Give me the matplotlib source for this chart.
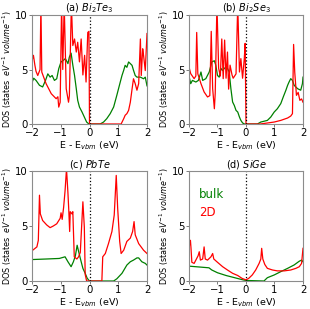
import matplotlib
matplotlib.use("Agg")
import matplotlib.pyplot as plt

# ---------------- data ----------------
# (a) Bi2Te3
bite_bulk_x = [-2.0, -1.94, -1.86, -1.74, -1.63, -1.53, -1.45, -1.37, -1.3, -1.22, -1.14, -1.07, -0.99,
               -0.91, -0.84, -0.75, -0.7, -0.64, -0.58, -0.52, -0.46, -0.41, -0.35, -0.26, -0.18, -0.1, -0.02,
               0.0, 0.37, 0.49, 0.6, 0.72, 0.84, 0.95, 1.07, 1.13, 1.19, 1.24, 1.3, 1.36, 1.42, 1.48, 1.53,
               1.59, 1.65, 1.77, 1.88, 1.94, 2.0]
bite_bulk_y = [3.8, 4.2, 4.0, 3.55, 3.4, 4.0, 4.6, 4.3, 4.45, 4.0, 4.15, 5.07, 5.7,
               5.84, 6.0, 5.54, 6.15, 6.5, 5.4, 4.45, 3.24, 2.17, 1.56, 1.1, 0.64, 0.18, 0.0,
               0.0, 0.0, 0.18, 0.49, 0.95, 1.56, 2.63, 3.85, 4.45, 4.93, 5.38, 5.2, 5.69, 5.54, 5.38, 4.93,
               4.45, 4.3, 4.3, 4.15, 4.3, 3.5]
bite_2d_x = [-2.0, -1.95, -1.9, -1.86, -1.8, -1.72, -1.69, -1.66, -1.51, -1.33, -1.16, -1.1, -1.07, -1.02,
             -0.97, -0.93, -0.88, -0.81, -0.73, -0.7, -0.63, -0.58, -0.52, -0.46, -0.41, -0.35, -0.29,
             -0.23, -0.17, -0.12, -0.06, -0.02, 0.0, 1.1, 1.19, 1.24, 1.3, 1.36, 1.42, 1.48, 1.53, 1.59,
             1.65, 1.71, 1.77, 1.8, 1.85, 1.88, 1.94, 2.0]
bite_2d_y = [5.8, 6.3, 5.4, 4.83, 4.45, 5.0, 11.0, 4.77, 3.7, 2.78, 2.32, 2.5, 1.55, 2.0,
             11.0, 5.0, 11.0, 3.24, 2.0, 2.6, 11.0, 7.2, 7.8, 6.6, 7.5, 5.7, 7.8,
             4.5, 6.3, 3.85, 8.4, 8.5, 0.0, 0.0, 0.49, 0.8, 0.95, 1.25, 2.0, 3.2, 4.15, 3.7,
             3.1, 3.7, 7.8, 4.45, 6.9, 6.3, 4.9, 8.3]

# (b) Bi2Se3
bise_bulk_x = [-2.0, -1.94, -1.88, -1.76, -1.67, -1.58, -1.52, -1.41, -1.29, -1.2, -1.11, -1.06, -1.0,
               -0.94, -0.88, -0.82, -0.76, -0.7, -0.65, -0.59, -0.53, -0.47, -0.41, -0.35, -0.29, -0.23,
               -0.18, -0.12, -0.06, 0.0, 0.4, 0.52, 0.75, 0.87, 0.99, 1.1, 1.22, 1.31, 1.4, 1.46, 1.51,
               1.57, 1.63, 1.69, 1.81, 1.92, 1.98, 2.0]
bise_bulk_y = [4.4, 3.7, 4.0, 3.85, 4.0, 4.77, 4.0, 4.16, 4.77, 5.7, 5.8, 5.4, 4.45,
               4.3, 5.1, 4.9, 5.1, 5.23, 5.1, 4.77, 3.24, 2.02, 1.7, 1.25, 1.1, 0.64,
               0.33, 0.1, 0.0, 0.0, 0.0, 0.18, 0.33, 0.64, 1.1, 1.4, 1.87, 2.5, 3.1, 3.55, 3.85,
               4.16, 4.0, 3.55, 3.24, 3.1, 3.7, 4.3]
bise_2d_x = [-2.0, -1.94, -1.82, -1.76, -1.73, -1.69, -1.58, -1.47, -1.35, -1.27, -1.22, -1.17, -1.11,
             -1.08, -1.02, -0.96, -0.9, -0.85, -0.8, -0.75, -0.7, -0.65, -0.61, -0.56, -0.49, -0.45,
             -0.35, -0.29, -0.23, -0.18, -0.12, -0.06, -0.03, 0.0, 0.5, 0.99, 1.22, 1.46, 1.57, 1.63,
             1.67, 1.71, 1.77, 1.83, 1.89, 1.95, 2.0]
bise_2d_y = [5.23, 4.62, 4.16, 4.4, 8.4, 4.6, 3.7, 2.94, 2.48, 2.6, 8.5, 3.24, 1.4,
             2.8, 11.0, 5.1, 4.4, 7.8, 4.16, 7.7, 4.2, 6.6, 3.2, 5.4, 4.5, 4.2,
             4.6, 11.0, 4.77, 6.0, 4.2, 6.0, 7.4, 0.0, 0.0, 0.18, 0.33, 0.55, 0.73, 0.95,
             7.3, 4.77, 2.63, 2.9, 2.17, 2.3, 2.0]

# (c) PbTe
pbte_bulk_x = [-2.0, -1.5, -1.05, -0.85, -0.75, -0.64, -0.56, -0.49, -0.43, -0.38, -0.32, -0.23, -0.15,
               -0.08, 0.0, 0.84, 0.95, 1.13, 1.3, 1.42, 1.53, 1.65, 1.71, 1.82, 1.94, 2.0]
pbte_bulk_y = [1.95, 2.0, 2.05, 2.2, 1.75, 1.3, 1.75, 2.3, 3.25, 2.7, 2.06, 1.15, 0.7,
               0.25, 0.0, 0.0, 0.2, 0.7, 1.45, 1.75, 1.9, 2.1, 2.1, 1.75, 1.6, 1.45]
pbte_2d_x = [-2.0, -1.95, -1.83, -1.78, -1.74, -1.71, -1.63, -1.49, -1.37, -1.26, -1.14, -1.02, -0.99,
             -0.95, -0.9, -0.85, -0.8, -0.75, -0.72, -0.69, -0.67, -0.61, -0.58, -0.53, -0.44, -0.38,
             -0.32, -0.23, -0.18, -0.15, -0.1, 0.0, 0.43, 0.46, 0.55, 0.66, 0.78, 0.86, 0.93, 0.98,
             1.05, 1.1, 1.19, 1.3, 1.42, 1.5, 1.55, 1.59, 1.71, 1.88, 2.0]
pbte_2d_y = [2.75, 2.85, 3.1, 3.7, 7.8, 6.1, 5.5, 5.1, 4.85, 5.0, 5.2, 5.7, 6.2,
             5.6, 6.7, 8.2, 10.2, 8.0, 6.4, 4.5, 6.3, 6.1, 6.3, 2.2, 2.0, 2.2,
             2.6, 7.2, 4.9, 0.6, 0.0, 0.0, 0.0, 2.2, 2.5, 3.4, 4.5, 6.0, 9.6, 6.6,
             3.6, 2.5, 2.8, 3.6, 3.9, 4.5, 5.4, 4.2, 3.4, 2.8, 2.5]

# (d) SiGe
sige_bulk_x = [-2.0, -1.3, -1.2, -1.0, -0.7, -0.4, -0.1, 0.0, 0.63, 0.75, 0.99, 1.22, 1.46, 1.69,
               1.87, 1.95, 2.0]
sige_bulk_y = [1.35, 1.2, 1.0, 0.75, 0.5, 0.3, 0.1, 0.05, 0.0, 0.3, 0.55, 0.85, 1.15, 1.46,
               1.8, 1.9, 1.75]
sige_2d_x = [-2.0, -1.98, -1.95, -1.93, -1.9, -1.82, -1.74, -1.68, -1.64, -1.6, -1.52, -1.47, -1.43,
             -1.35, -1.23, -1.17, -1.13, -1.0, -0.82, -0.65, -0.47, -0.29, -0.14, 0.0, 0.1, 0.22,
             0.34, 0.46, 0.52, 0.55, 0.59, 0.66, 0.75, 0.93, 1.1, 1.34, 1.57, 1.75, 1.87, 1.95, 2.0]
sige_2d_y = [2.97, 3.3, 3.7, 3.0, 1.7, 1.6, 2.0, 2.3, 2.66, 1.9, 2.0, 3.1, 2.0,
             1.9, 2.2, 2.5, 2.0, 1.7, 1.3, 1.0, 0.7, 0.5, 0.24, 0.1, 0.25, 0.55,
             1.0, 1.6, 2.0, 2.97, 2.0, 1.5, 1.15, 1.0, 0.92, 0.92, 1.0, 1.15, 1.3, 1.6, 2.97]

titles = ["(a) $Bi_2Te_3$", "(b) $Bi_2Se_3$", "(c) $PbTe$", "(d) $SiGe$"]
legend_labels = ["bulk", "2D"]
xticks = [-2, -1, 0, 1, 2]
yticks = [0, 5, 10]

panels = [
    (bite_bulk_x, bite_bulk_y, bite_2d_x, bite_2d_y),
    (bise_bulk_x, bise_bulk_y, bise_2d_x, bise_2d_y),
    (pbte_bulk_x, pbte_bulk_y, pbte_2d_x, pbte_2d_y),
    (sige_bulk_x, sige_bulk_y, sige_2d_x, sige_2d_y),
]

# ---------------- figure ----------------
W, H = 310, 309
fig = plt.figure(figsize=(W / 100, H / 100), dpi=100)

boxes = [
    (32, 147, 15, 124),
    (189, 303, 15, 124),
    (32, 147, 171, 281),
    (189, 303, 171, 281),
]

for i, ((bx, by, tx, ty), (l, r, t, b)) in enumerate(zip(panels, boxes)):
    ax = fig.add_axes([l / W, 1 - b / H, (r - l) / W, (b - t) / H])
    lb, = ax.plot(bx, by, color="green", lw=0.9, label=legend_labels[0])
    l2, = ax.plot(tx, ty, color="red", lw=0.9, label=legend_labels[1])
    ax.axvline(0, color="black", ls=":", lw=0.9)
    ax.set_xlim(-2, 2)
    ax.set_ylim(0, 10)
    ax.set_xticks(xticks)
    ax.set_yticks(yticks)
    ax.tick_params(labelsize=7.3, length=2, width=0.6, pad=1, color="0.4")
    for s in ax.spines.values():
        s.set_color("0.55")
        s.set_linewidth(0.8)
    ax.set_title(titles[i], fontsize=7, pad=2)
    ax.set_xlabel("E - E$_{vbm}$ (eV)", fontsize=6.8, labelpad=1)
    ax.set_ylabel("DOS (states  $eV^{-1}$ $volume^{-1}$)", fontsize=5.8, labelpad=1)
    if i == 3:
        leg = ax.legend(handles=[lb, l2], loc="upper left", frameon=False,
                        bbox_to_anchor=(0.065, 0.87), borderaxespad=0, borderpad=0.2,
                        handlelength=0, handletextpad=0, fontsize=8.5,
                        labelcolor="linecolor", labelspacing=0.45)
        for h in leg.legend_handles:
            h.set_visible(False)

fig.savefig("out.png", dpi=100)
